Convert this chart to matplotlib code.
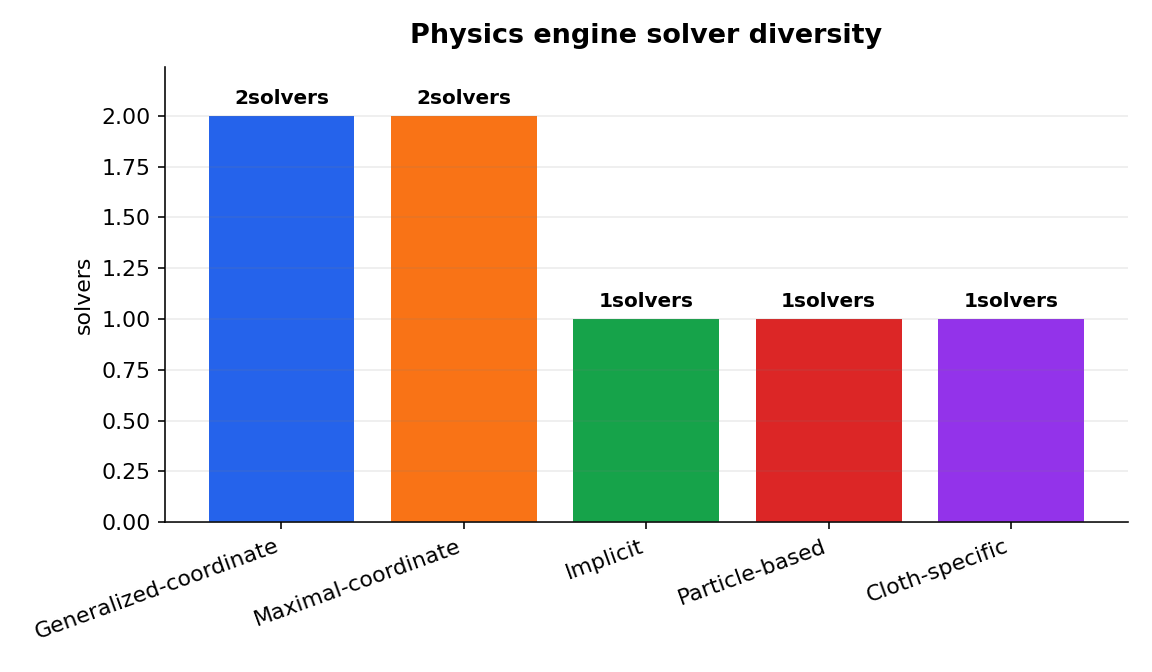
import matplotlib
matplotlib.use("Agg")
import matplotlib.pyplot as plt

categories = ["Generalized-coordinate", "Maximal-coordinate", "Implicit", "Particle-based", "Cloth-specific"]
values = [2, 2, 1, 1, 1]
colors = ["#2563eb", "#f97316", "#16a34a", "#dc2626", "#9333ea"]

fig, ax = plt.subplots(figsize=(8, 4.6667), dpi=144)
bars = ax.bar(categories, values, color=colors, width=0.8)
ax.set_ylim(0, max(values) * 1.12)
ax.yaxis.grid(True, color="gray", linewidth=0.8, alpha=0.15)
ax.set_axisbelow(False)
ax.spines["top"].set_visible(False)
ax.spines["right"].set_visible(False)
ax.set_ylabel("solvers", fontsize=11)
ax.set_title("Physics engine solver diversity", fontsize=13.5, fontweight="bold", pad=12)
ax.tick_params(axis="both", labelsize=11)
plt.setp(ax.get_xticklabels(), rotation=20, ha="right")
for b, v in zip(bars, values):
    ax.annotate(f"{v}solvers", (b.get_x() + b.get_width() / 2, v), xytext=(0, 4),
                textcoords="offset points", ha="center", va="bottom", fontsize=10, fontweight="bold")
fig.subplots_adjust(left=0.143, right=0.979, top=0.9, bottom=0.223)
fig.savefig("out.png", dpi=144)
